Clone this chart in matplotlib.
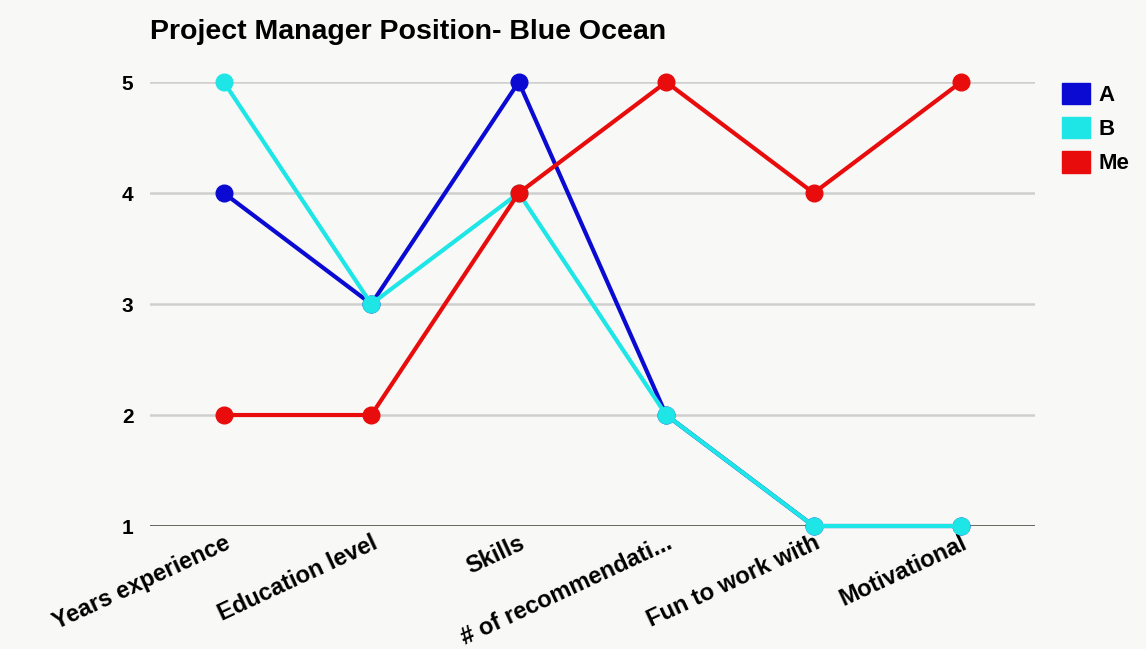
import matplotlib.pyplot as plt
from matplotlib.patches import Patch

plt.rcParams['font.family'] = ['Liberation Sans', 'DejaVu Sans']

# criteria and scores
categories = ['Years experience', 'Education level', 'Skills',
              '# of recommendati...', 'Fun to work with', 'Motivational']
score_a = [4, 3, 5, 2, 1, 1]
score_b = [5, 3, 4, 2, 1, 1]
score_me = [2, 2, 4, 5, 4, 5]
yticks = [1, 2, 3, 4, 5]

series = [('A', score_a, '#0a0ad2'),
          ('B', score_b, '#1ee6e6'),
          ('Me', score_me, '#e80c0c')]

fig = plt.figure(figsize=(11.46, 6.49), dpi=100)
fig.patch.set_facecolor('#f8f8f6')
ax = fig.add_axes([0.131, 0.1895, 0.772, 0.6841])
ax.set_facecolor('none')

x = list(range(len(categories)))
for name, vals, col in series:
    ax.plot(x, vals, color=col, lw=3, marker='o', ms=12,
            clip_on=False, zorder=3)

ax.set_xlim(-0.5, len(categories) - 0.5)
ax.set_ylim(1, 5)
ax.set_yticks(yticks)
ax.set_yticklabels([str(v) for v in yticks], fontsize=15, fontweight='bold')
for v in yticks[1:]:
    ax.axhline(v, color='#cfcfcf', lw=1.8, zorder=1)
ax.axhline(1, color='#3c3c30', lw=1.8, zorder=2)

ax.set_xticks(x)
ax.set_xticklabels(categories, rotation=25, ha='right', rotation_mode='anchor',
                   fontsize=17, fontweight='bold')
ax.tick_params(length=0, pad=12)
ax.tick_params(axis='x', pad=4)
for s in ax.spines.values():
    s.set_visible(False)

fig.text(0.131, 0.95, 'Project Manager Position- Blue Ocean',
         fontsize=20.5, fontweight='bold', va='center', ha='left')

handles = [Patch(facecolor=c, edgecolor=c, label=n) for n, _, c in series]
fig.legend(handles=handles, loc='upper left', bbox_to_anchor=(0.917, 0.89),
           frameon=False, prop={'weight': 'bold', 'size': 16},
           handlelength=1.25, handleheight=1.1, handletextpad=0.4,
           labelspacing=0.5, borderpad=0)

fig.savefig('out.png', dpi=100, facecolor=fig.get_facecolor())
